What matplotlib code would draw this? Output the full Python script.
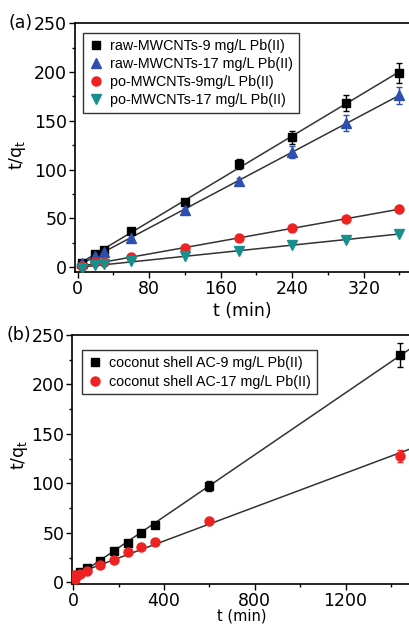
import numpy as np
import matplotlib
matplotlib.use("Agg")
import matplotlib.pyplot as plt
from matplotlib.ticker import MultipleLocator

plt.rcParams['font.family'] = ['DejaVu Sans']
plt.rcParams['mathtext.default'] = 'regular'

# ---- panel (a) data: t (min) vs t/qt ----
t_a = [5, 20, 30, 60, 120, 180, 240, 300, 360]
raw9 = [4, 14, 18, 37, 67, 106, 133, 168, 199]
raw9_err = [0, 0, 0, 0, 2, 5, 7, 8, 10]
raw17 = [4, 12, 16, 30, 59, 88, 118, 148, 176]
raw17_err = [0, 0, 0, 0, 2, 3, 6, 8, 9]
po9 = [1, 5, 5, 10, 20, 30, 40, 49, 60]
po17 = [-1, 2, 3, 6, 11, 17, 23, 28, 34]

# ---- panel (b) data ----
t_b = [5, 10, 30, 60, 120, 180, 240, 300, 360, 600, 1440]
cs9 = [4, 6, 10, 15, 22, 32, 40, 50, 58, 97, 230]
cs9_err = [0, 0, 0, 0, 0, 0, 0, 0, 0, 5, 12]
cs17 = [7, 3, 8, 12, 18, 23, 31, 36, 41, 62, 128]
cs17_err = [0, 0, 0, 0, 0, 0, 0, 0, 0, 0, 6]

BLUE = '#2f4fb0'
RED = '#ee2222'
TEAL = '#178f8f'

fig = plt.figure(figsize=(4.09, 6.27), dpi=100)

def style_axes(ax):
    ax.spines['right'].set_visible(False)
    ax.tick_params(axis='both', which='both', direction='out', labelsize=12.5,
                   width=1, top=False, right=False)
    ax.tick_params(which='major', length=4, pad=1.5)
    ax.tick_params(which='minor', length=2.5)
    for s in ('left', 'bottom', 'top'):
        ax.spines[s].set_linewidth(1.2)

def fit_line(ax, x, y, x0, x1):
    k, b = np.polyfit(x, y, 1)
    xx = np.array([x0, x1])
    ax.plot(xx, k * xx + b, color='#333333', lw=1.1, zorder=1)

def make_legend(ax, anchor, spacing):
    leg = ax.legend(loc='upper left', bbox_to_anchor=anchor,
                    prop={'family': 'Liberation Sans', 'size': 10.3},
                    frameon=True, fancybox=False, edgecolor='black', handletextpad=0.5,
                    handlelength=1.0, labelspacing=spacing, borderpad=0.4,
                    borderaxespad=0.0)
    leg.get_frame().set_linewidth(1)
    return leg

# ======== (a) ========
ax1 = fig.add_axes([0.183, 0.566, 0.82, 0.397])
fit_line(ax1, t_a, raw9, 0, 360)
fit_line(ax1, t_a, raw17, 0, 360)
fit_line(ax1, t_a, po9, 0, 360)
fit_line(ax1, t_a, po17, 0, 360)
ax1.errorbar(t_a, raw9, yerr=raw9_err, fmt='none', ecolor='black', capsize=2.5,
             elinewidth=1, zorder=2)
ax1.errorbar(t_a, raw17, yerr=raw17_err, fmt='none', ecolor=BLUE, capsize=2.5,
             elinewidth=1, zorder=2)
ax1.plot(t_a, raw9, 's', color='black', ms=6, label='raw-MWCNTs-9 mg/L Pb(II)', zorder=3)
ax1.plot(t_a, raw17, '^', color=BLUE, ms=7, label='raw-MWCNTs-17 mg/L Pb(II)', zorder=3)
ax1.plot(t_a, po9, 'o', color=RED, ms=6.5, label='po-MWCNTs-9mg/L Pb(II)', zorder=3)
ax1.plot(t_a, po17, 'v', color=TEAL, ms=7, label='po-MWCNTs-17 mg/L Pb(II)', zorder=3)
ax1.set_xlim(-3, 372)
ax1.set_ylim(-5, 250)
ax1.xaxis.set_major_locator(MultipleLocator(80))
ax1.xaxis.set_minor_locator(MultipleLocator(40))
ax1.yaxis.set_major_locator(MultipleLocator(50))
ax1.yaxis.set_minor_locator(MultipleLocator(25))
style_axes(ax1)
ax1.set_xlabel('t (min)', fontsize=12.5, labelpad=3)
ax1.set_ylabel('t/q$_t$', fontsize=12.5)
ax1.yaxis.set_label_coords(-0.139, 0.47)
make_legend(ax1, (0.025, 0.96), 0.28)
fig.text(0.022, 0.963, '(a)', fontsize=12.5, va='center')

# ======== (b) ========
ax2 = fig.add_axes([0.176, 0.068, 0.83, 0.398])
fit_line(ax2, t_b, cs9, 0, 1500)
fit_line(ax2, t_b, cs17, 0, 1500)
ax2.errorbar(t_b, cs9, yerr=cs9_err, fmt='none', ecolor='black', capsize=2.5,
             elinewidth=1, zorder=2)
ax2.errorbar(t_b, cs17, yerr=cs17_err, fmt='none', ecolor=RED, capsize=2.5,
             elinewidth=1, zorder=2)
ax2.plot(t_b, cs9, 's', color='black', ms=6, label='coconut shell AC-9 mg/L Pb(II)', zorder=3)
ax2.plot(t_b, cs17, 'o', color=RED, ms=6.5, label='coconut shell AC-17 mg/L Pb(II)', zorder=3)
ax2.set_xlim(-5, 1490)
ax2.set_ylim(-2, 250)
ax2.xaxis.set_major_locator(MultipleLocator(400))
ax2.xaxis.set_minor_locator(MultipleLocator(200))
ax2.yaxis.set_major_locator(MultipleLocator(50))
ax2.yaxis.set_minor_locator(MultipleLocator(25))
style_axes(ax2)
ax2.set_xlabel('t (min)', fontsize=10.5, labelpad=-1)
ax2.set_ylabel('t/q$_t$', fontsize=12.5)
ax2.yaxis.set_label_coords(-0.124, 0.52)
make_legend(ax2, (0.03, 0.94), 0.35)
fig.text(0.015, 0.466, '(b)', fontsize=12.5, va='center')

fig.savefig('out.png', dpi=100)
